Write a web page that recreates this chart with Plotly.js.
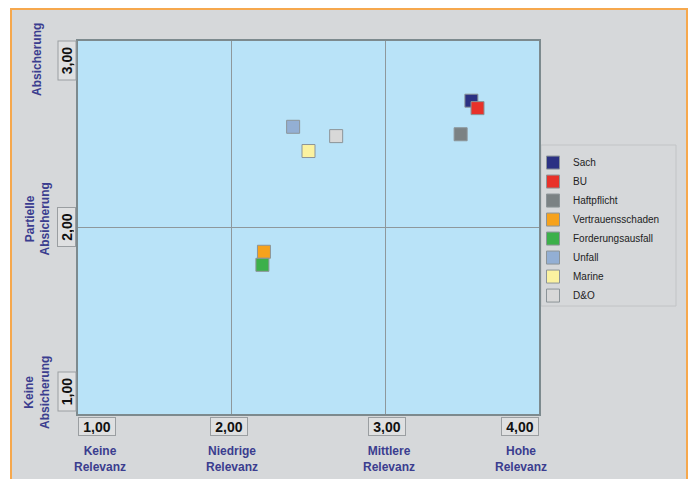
<!DOCTYPE html>
<html>
<head>
<meta charset="utf-8">
<script src="https://cdn.plot.ly/plotly-3.0.1.min.js"></script>
<style>
  html, body { margin: 0; padding: 0; background: #ffffff; width: 693px; height: 479px; overflow: hidden; }
  #frame { position: absolute; left: 10px; top: 8px; width: 678px; height: 480px; background: #d6d8da; border: 2px solid #f6a84d; box-sizing: border-box; }
  #chart { position: absolute; left: 0; top: 0; width: 693px; height: 479px; }
</style>
</head>
<body>
<div id="frame"></div>
<div id="chart"></div>
<script>
// Series (one point per line of business)
const seriesNames = ["Sach", "BU", "Haftpflicht", "Vertrauensschaden", "Forderungsausfall", "Unfall", "Marine", "D&O"];
const relevanz    = [3.56, 3.60, 3.49, 2.21, 2.20, 2.40, 2.50, 2.68];
const absicherung = [2.68, 2.64, 2.50, 1.87, 1.80, 2.54, 2.41, 2.49];
const seriesColors = ["#2b3183", "#e8312a", "#7b8284", "#f6a21c", "#3cb04a", "#93afd4", "#fbf2a0", "#d8d8d8"];

// Axis ticks and category labels
const xTicks = [1, 2, 3, 4];
const xTickLabels = ["1,00", "2,00", "3,00", "4,00"];
const xCatLabels = ["Keine<br>Relevanz", "Niedrige<br>Relevanz", "Mittlere<br>Relevanz", "Hohe<br>Relevanz"];
const yTicks = [1, 2, 3];
const yTickLabels = ["1,00", "2,00", "3,00"];
const yCatLabels = ["Keine<br>Absicherung", "Partielle<br>Absicherung", "Absicherung"];

const traces = seriesNames.map((n, i) => ({
  type: "scatter",
  mode: "markers",
  name: n,
  x: [relevanz[i]],
  y: [absicherung[i]],
  marker: { symbol: "square", size: 13, color: seriesColors[i], line: { color: "#8c9498", width: 1 } },
  hoverinfo: "name+x+y"
}));

const annotations = [];
const tickFont = { family: "Liberation Sans, Arial, sans-serif", size: 14, color: "#111111", weight: "bold" };
const catFont = { family: "Liberation Sans, Arial, sans-serif", size: 12, color: "#3b3d8f", weight: "bold" };

xTicks.forEach((v, i) => {
  let anchor = "center", shift = 0;
  if (i === 0) anchor = "left";
  if (i === xTicks.length - 1) anchor = "right";
  if (i === 1) shift = -3;
  if (i === 2) shift = 2;
  annotations.push({
    xref: "x", yref: "paper", x: v, y: 0, yanchor: "top", xanchor: anchor, xshift: shift, yshift: -3,
    text: "<b>" + xTickLabels[i] + "</b>", showarrow: false, font: tickFont,
    width: 34, height: 15, borderpad: 1,
    bgcolor: "#dfe0e1", bordercolor: "#9a9ea1", borderwidth: 1
  });
  const catShift = [22, 0, 4, -18][i];
  annotations.push({
    xref: "x", yref: "paper", x: v, y: 0, yanchor: "top", xanchor: "center", xshift: catShift, yshift: -28,
    text: "<b>" + xCatLabels[i] + "</b>", showarrow: false, font: catFont, align: "center"
  });
});

yTicks.forEach((v, i) => {
  let anchor = "middle";
  if (i === 0) anchor = "bottom";
  if (i === yTicks.length - 1) anchor = "top";
  annotations.push({
    xref: "paper", yref: "y", x: 0, y: v, xanchor: "right", yanchor: anchor, xshift: -2, yshift: (i === 0 ? 2 : 0),
    text: "<b>" + yTickLabels[i] + "</b>", showarrow: false, font: tickFont, textangle: -90,
    width: 36, height: 15, borderpad: 1,
    bgcolor: "#dfe0e1", bordercolor: "#9a9ea1", borderwidth: 1
  });
  const catShift = [21, 8, -19][i];
  annotations.push({
    xref: "paper", yref: "y", x: 0, y: v, xanchor: "center", yanchor: "middle", xshift: -41, yshift: catShift,
    text: "<b>" + yCatLabels[i] + "</b>", showarrow: false, font: catFont, textangle: -90, align: "center"
  });
});

const layout = {
  width: 693, height: 479,
  margin: { l: 78, r: 154, t: 41, b: 65, pad: 0 },
  paper_bgcolor: "rgba(0,0,0,0)",
  plot_bgcolor: "#b9e3f8",
  xaxis: {
    range: [1, 4], tickvals: xTicks, showticklabels: false, ticks: "",
    showgrid: true, gridcolor: "#8e989c", gridwidth: 1, zeroline: false,
    showline: true, mirror: true, linecolor: "#7d8a8e", linewidth: 2, fixedrange: true
  },
  yaxis: {
    range: [1, 3], tickvals: yTicks, showticklabels: false, ticks: "",
    showgrid: true, gridcolor: "#8e989c", gridwidth: 1, zeroline: false,
    showline: true, mirror: true, linecolor: "#7d8a8e", linewidth: 2, fixedrange: true
  },
  shapes: [{
    type: "rect", xref: "paper", yref: "paper", layer: "below",
    x0: 1.0043, x1: 1.2972, y0: 0.2895, y1: 0.7212,
    line: { color: "#c2c4c6", width: 1 }, fillcolor: "rgba(0,0,0,0)"
  }],
  showlegend: true,
  legend: {
    x: 0.987, xanchor: "left", y: 0.713, yanchor: "top",
    bgcolor: "rgba(0,0,0,0)", borderwidth: 0,
    font: { family: "Liberation Sans, Arial, sans-serif", size: 10, color: "#222222" },
    itemwidth: 30, tracegroupgap: 0
  },
  annotations: annotations
};

Plotly.newPlot("chart", traces, layout, { displayModeBar: false, staticPlot: true });
</script>
</body>
</html>
